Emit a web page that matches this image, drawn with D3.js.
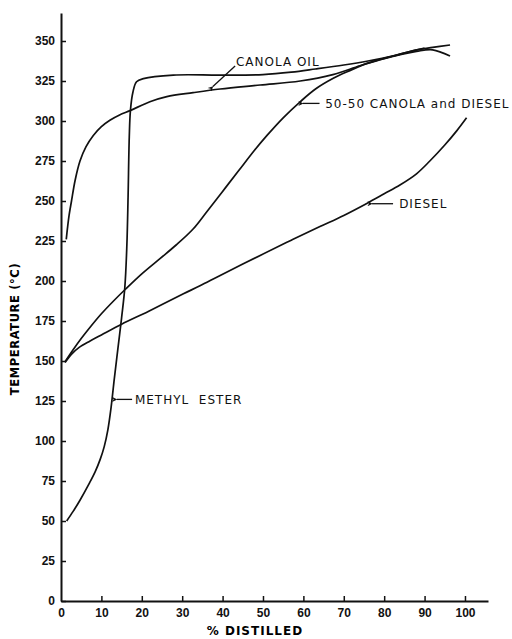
<!DOCTYPE html>
<html>
<head>
<meta charset="utf-8">
<script src="https://cdnjs.cloudflare.com/ajax/libs/d3/7.8.5/d3.min.js"></script>
<style>
  body { margin: 0; background: #fff; }
  svg { display: block; font-family: 'DejaVu Sans', sans-serif; }
  .axis text { font-size: 12px; font-weight: bold; fill: #111; }
  .axis path, .axis line { stroke: #111; }
  .curve { fill: none; stroke: #111; stroke-width: 1.7; stroke-linejoin: round; }
  .note { font-size: 12px; fill: #111; letter-spacing: 1px; }
</style>
</head>
<body>
<svg></svg>
<script>
let width = 512;
let height = 639;

// % distilled vs temperature (°C)
const methylEster = [
  [1.4, 50], [3, 56], [4.7, 63], [7, 73.5], [8.5, 81], [9.7, 88.5],
  [10.7, 96.5], [11.6, 107], [12.4, 121], [13.2, 139], [14.1, 158],
  [15, 177], [15.8, 196], [16.3, 222], [16.6, 252], [16.9, 290],
  [17.2, 307], [17.8, 318], [18.7, 324.5], [20.4, 326.5], [27.8, 328.7],
  [39.4, 328.7], [50, 329], [57, 330.5], [63, 332.5], [70, 335],
  [76, 337.5], [82, 340.5], [88, 344.5], [92, 346], [96.3, 347.5]
];

const canolaOil = [
  [1.3, 226], [1.6, 233], [2.0, 241], [2.6, 250], [3.5, 263], [4.7, 275],
  [6.2, 284], [8, 291], [10, 296.5], [12.1, 300.5], [14.5, 303.8],
  [17.1, 306.5], [22, 312], [26.2, 315.2], [32.7, 317.7], [39.4, 320],
  [49.3, 322.5], [59.2, 325], [67.3, 329], [74, 334.5], [80, 339],
  [88, 343.5], [92, 344.5], [96.3, 340.6]
];

const canolaDiesel = [
  [1, 149.5], [3, 157], [5, 164], [7.5, 172], [10, 179.5], [13, 187.5],
  [16, 195], [20, 204.5], [24.5, 214], [28.5, 222.5], [32.7, 232.5],
  [36, 243], [40, 256], [44, 269], [48, 282], [51, 291], [55, 302],
  [59.2, 312], [63, 320], [67.4, 326.7], [71.5, 331.5], [75.7, 336],
  [82, 340.5], [90, 345.5]
];

const diesel = [
  [1, 149], [2.5, 154], [4.5, 158.5], [7.2, 162.5], [10, 166.3], [15, 173],
  [21.6, 181], [30.3, 192], [34.4, 197], [39.4, 203.5], [49.3, 216],
  [57, 225.5], [64.1, 234], [70, 241], [75.7, 248.5], [80, 254.5],
  [83.9, 260], [88, 267], [91.3, 275], [95, 285], [98, 294], [100.4, 302]
];

const xTicks = [0, 10, 20, 30, 40, 50, 60, 70, 80, 90, 100];
const yTicks = [0, 25, 50, 75, 100, 125, 150, 175, 200, 225, 250, 275, 300, 325, 350];

// labels with arrow: text centre-left point and arrow tail/tip in data units
const notes = [
  { text: 'CANOLA OIL', at: [43.3, 337], tail: [43.1, 334.4], tip: [37.6, 321.5] },
  { text: '50-50 CANOLA and DIESEL', at: [65.4, 311], tail: [64, 311], tip: [59.9, 311] },
  { text: 'DIESEL', at: [83.7, 248.3], tail: [82.2, 248.3], tip: [77, 248.3] },
  { text: 'METHYL  ESTER', at: [18.3, 126], tail: [17.6, 126], tip: [13.8, 126] }
];

let x = d3.scaleLinear()
          .domain([0, 105.7])
          .range([61, 488]);

let y = d3.scaleLinear()
          .domain([0, 367.5])
          .range([601, 13]);

let svg = d3.select('svg')
            .attr('width', width)
            .attr('height', height);

svg.append('defs')
  .append('marker')
    .attr('id', 'head')
    .attr('viewBox', '0 0 10 10')
    .attr('refX', 1)
    .attr('refY', 5)
    .attr('markerWidth', 5)
    .attr('markerHeight', 4)
    .attr('orient', 'auto')
  .append('path')
    .attr('d', 'M10,5 L0,0 L3,5 L0,10 Z')
    .attr('transform', 'rotate(180 5 5)')
    .attr('fill', '#111');

let xAxis = svg.append('g')
  .classed('axis', true)
  .attr('transform', `translate(0, ${y(0)})`)
  .call(d3.axisBottom(x)
          .tickValues(xTicks)
          .tickSizeInner(-5)
          .tickSizeOuter(0)
          .tickPadding(7));

let yAxis = svg.append('g')
  .classed('axis', true)
  .attr('transform', `translate(${x(0)}, 0)`)
  .call(d3.axisLeft(y)
          .tickValues(yTicks)
          .tickSizeInner(-5)
          .tickSizeOuter(0)
          .tickPadding(6));

svg.selectAll('.axis .domain').attr('stroke-width', 2);
svg.selectAll('.axis .tick line').attr('stroke-width', 1.5);
xAxis.select('.tick line').remove();

let line = d3.line()
             .x(d => x(d[0]))
             .y(d => y(d[1]))
             .curve(d3.curveCatmullRom.alpha(0.5));

svg.selectAll('.curve')
  .data([methylEster, canolaOil, canolaDiesel, diesel])
  .enter()
  .append('path')
    .classed('curve', true)
    .attr('d', line);

// annotations
svg.selectAll('.arrow')
  .data(notes)
  .enter()
  .append('line')
    .classed('arrow', true)
    .attr('x1', d => x(d.tail[0]))
    .attr('y1', d => y(d.tail[1]))
    .attr('x2', d => x(d.tip[0]))
    .attr('y2', d => y(d.tip[1]))
    .attr('stroke', '#111')
    .attr('stroke-width', 1.3)
    .attr('marker-end', 'url(#head)');

svg.selectAll('.note')
  .data(notes)
  .enter()
  .append('text')
    .classed('note', true)
    .attr('x', d => x(d.at[0]))
    .attr('y', d => y(d.at[1]))
    .attr('dy', '0.36em')
    .style('white-space', 'pre')
    .text(d => d.text);

svg.append('text')
    .attr('transform', `translate(19, ${y(170)}) rotate(-90)`)
    .style('text-anchor', 'middle')
    .style('font-size', '11.5px')
    .style('font-weight', 'bold')
    .style('letter-spacing', '0.6px')
    .text('TEMPERATURE (°C)');

svg.append('text')
    .attr('x', x(48))
    .attr('y', 635)
    .style('text-anchor', 'middle')
    .style('font-size', '12px')
    .style('font-weight', 'bold')
    .style('letter-spacing', '1px')
    .text('% DISTILLED');
</script>
</body>
</html>
